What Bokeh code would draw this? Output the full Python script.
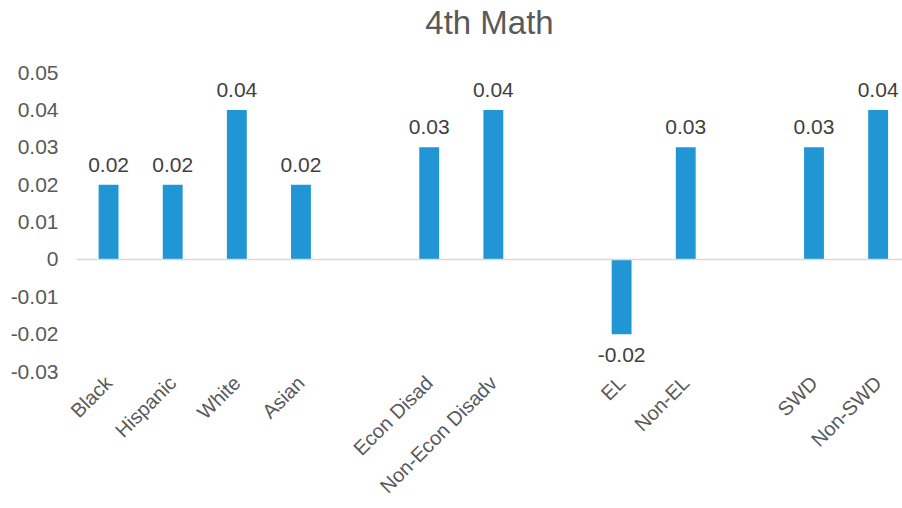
import math
from bokeh.plotting import figure
from bokeh.models import ColumnDataSource, Range1d, FixedTicker, Span, Title
from bokeh.core.properties import value
from bokeh.embed import file_html
from bokeh.resources import INLINE

title_text = "4th Math"
# category slots; empty strings are spacer slots between groups
categories = ["Black", "Hispanic", "White", "Asian", "",
              "Econ Disad", "Non-Econ Disadv", "",
              "EL", "Non-EL", "",
              "SWD", "Non-SWD"]
values = [0.02, 0.02, 0.04, 0.02, None,
          0.03, 0.04, None,
          -0.02, 0.03, None,
          0.03, 0.04]
y_ticks = [-0.03, -0.02, -0.01, 0.0, 0.01, 0.02, 0.03, 0.04, 0.05]
y_tick_labels = ["-0.03", "-0.02", "-0.01", "0", "0.01", "0.02", "0.03", "0.04", "0.05"]

BAR = "#2196D4"
TXT = "#595959"
FONT = "Liberation Sans"

xs, vs, labs, cats = [], [], [], []
for i, (c, v) in enumerate(zip(categories, values)):
    if v is None:
        continue
    xs.append(i)
    vs.append(v)
    labs.append(f"{v:.2f}")
    cats.append(c)

src = ColumnDataSource(dict(x=xs, top=vs, label=labs))
pos = ColumnDataSource(dict(x=[x for x, v in zip(xs, vs) if v >= 0],
                            y=[v for v in vs if v >= 0],
                            label=[l for l, v in zip(labs, vs) if v >= 0]))
neg = ColumnDataSource(dict(x=[x for x, v in zip(xs, vs) if v < 0],
                            y=[v for v in vs if v < 0],
                            label=[l for l, v in zip(labs, vs) if v < 0]))

# frame runs a little below the lowest tick so the rotated labels fit the window
p = figure(width=902, height=508, output_backend="svg", toolbar_location=None,
           x_range=Range1d(-0.5, len(categories) - 0.62),
           y_range=Range1d(y_ticks[0] - 0.0016, y_ticks[-1]),
           min_border_left=76, min_border_right=0, min_border_top=72,
           min_border_bottom=128, outline_line_color=None)

p.title.text = title_text
p.title.align = "center"
p.title.text_font = FONT
p.title.text_font_size = "33px"
p.title.text_font_style = "normal"
p.title.text_color = TXT
p.title.standoff = 0

# empty spacer between the title and the plot area
p.add_layout(Title(text=" ", text_font_size="26px", standoff=0), "above")

p.vbar(x="x", top="top", bottom=0, width=0.31, source=src,
       fill_color=BAR, line_color=None)

p.add_layout(Span(location=0, dimension="width", line_color="#D9D9D9", line_width=1.5))

p.text(x="x", y="y", text="label", source=pos, text_align="center",
       text_baseline="bottom", y_offset=-13, text_font=value(FONT),
       text_font_size="21px", text_color="#404040")
p.text(x="x", y="y", text="label", source=neg, text_align="center",
       text_baseline="top", y_offset=14, text_font=value(FONT),
       text_font_size="21px", text_color="#404040")

p.xgrid.grid_line_color = None
p.ygrid.grid_line_color = None

p.yaxis.ticker = FixedTicker(ticks=y_ticks)
p.yaxis.major_label_overrides = {t: l for t, l in zip(y_ticks, y_tick_labels)}
p.yaxis.axis_line_color = None
p.yaxis.major_tick_line_color = None
p.yaxis.minor_tick_line_color = None
p.yaxis.major_tick_out = 0
p.yaxis.major_label_standoff = 18
p.yaxis.major_label_text_font = FONT
p.yaxis.major_label_text_font_size = "21px"
p.yaxis.major_label_text_color = TXT

p.xaxis.ticker = FixedTicker(ticks=xs)
p.xaxis.major_label_overrides = {x: c for x, c in zip(xs, cats)}
p.xaxis.major_label_orientation = math.pi / 4
p.xaxis.axis_line_color = None
p.xaxis.major_tick_line_color = None
p.xaxis.minor_tick_line_color = None
p.xaxis.major_tick_out = 0
p.xaxis.major_label_standoff = 2
p.xaxis.major_label_text_font = FONT
p.xaxis.major_label_text_font_size = "20px"
p.xaxis.major_label_text_color = TXT

open("out.html", "w").write(file_html(p, INLINE))
